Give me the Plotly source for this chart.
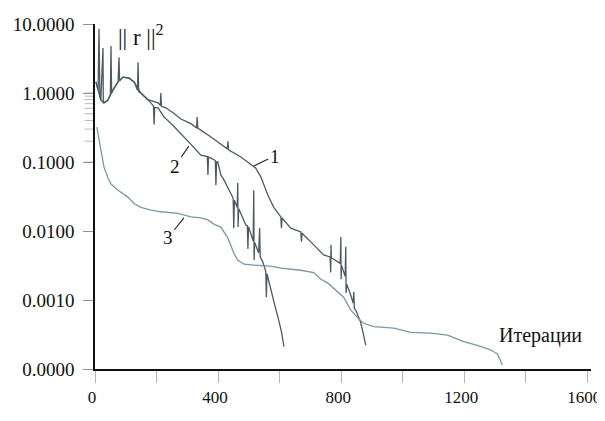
import math
import plotly.graph_objects as go

# ---- data ----
iter1 = [3, 10, 13, 16, 19, 26, 27, 29, 42, 50, 52, 54, 58, 75, 78, 80, 91, 110, 127, 138, 140, 142, 149, 172,
         205, 212, 214, 216, 230, 256, 279, 312, 330, 332, 334, 344, 377, 399, 430, 432, 434, 474, 506, 522, 539,
         562, 581, 604, 606, 608, 636, 669, 671, 673, 711, 743, 764, 766, 767, 768, 776, 797, 799, 800, 801, 813,
         815, 816, 818, 831, 839, 841, 843, 847, 863, 873, 880]
res1 = [1.45, 1.1, 8.5, 0.9, 0.79, 4.5, 0.75, 0.72, 0.79, 0.95, 4.8, 1.0, 1.1, 1.45, 3.3, 1.5, 1.7, 1.65, 1.45, 1.1,
        2.8, 1.05, 1.0, 0.8, 0.72, 0.66, 1.0, 0.64, 0.61, 0.51, 0.42, 0.36, 0.31, 0.45, 0.31, 0.29, 0.23, 0.195,
        0.155, 0.2, 0.15, 0.118, 0.094, 0.082, 0.061, 0.033, 0.022, 0.016, 0.011, 0.0155, 0.011, 0.0097, 0.007,
        0.0093, 0.0063, 0.0045, 0.0042, 0.0025, 0.0063, 0.0041, 0.0039, 0.0034, 0.0082, 0.002, 0.0032, 0.0022,
        0.0059, 0.00126, 0.0017, 0.00118, 0.0009, 0.0013, 0.00075, 0.00072, 0.00048, 0.00031, 0.00022]

iter2 = [3, 10, 16, 19, 29, 42, 58, 75, 91, 110, 127, 149, 172, 190, 192, 194, 205, 224, 253, 279, 312, 344, 365,
         367, 369, 377, 391, 393, 395, 399, 409, 419, 435, 449, 451, 453, 462, 464, 465, 467, 474, 490, 495, 497,
         499, 506, 514, 516, 517, 519, 532, 535, 537, 545, 555, 557, 559, 571, 584, 597, 607, 614]
res2 = [1.45, 1.1, 0.85, 0.79, 0.72, 0.79, 1.1, 1.45, 1.7, 1.65, 1.45, 1.0, 0.8, 0.65, 0.35, 0.62, 0.61, 0.45,
        0.34, 0.26, 0.18, 0.126, 0.12, 0.065, 0.118, 0.114, 0.105, 0.046, 0.1, 0.1, 0.065, 0.055, 0.039, 0.03,
        0.011, 0.028, 0.022, 0.05, 0.0114, 0.021, 0.018, 0.0122, 0.012, 0.0055, 0.0115, 0.0094, 0.0072, 0.039,
        0.0038, 0.0068, 0.0048, 0.011, 0.0042, 0.0036, 0.0026, 0.0011, 0.0024, 0.0014, 0.00085, 0.00051,
        0.00033, 0.00021]

iter3 = [6, 13, 19, 29, 42, 52, 75, 94, 107, 127, 149, 182, 214, 269, 289, 312, 344, 367, 386, 409, 432, 441,
         451, 464, 484, 516, 571, 604, 669, 711, 734, 756, 776, 808, 831, 854, 873, 906, 971, 1026, 1091, 1146,
         1198, 1243, 1285, 1308, 1324]
res3 = [0.32, 0.21, 0.14, 0.085, 0.059, 0.048, 0.039, 0.034, 0.031, 0.025, 0.022, 0.020, 0.019, 0.018, 0.017,
        0.016, 0.0155, 0.0145, 0.0126, 0.0114, 0.0079, 0.0063, 0.0048, 0.0038, 0.0033, 0.0032, 0.0031, 0.0029,
        0.0027, 0.0025, 0.0020, 0.00177, 0.00149, 0.0011, 0.00072, 0.00055, 0.00046, 0.00041, 0.00039, 0.00034,
        0.00033, 0.00031, 0.00025, 0.00022, 0.00019, 0.000165, 0.000114]

x_tickvals = [0, 400, 800, 1200, 1600]
x_ticktext = ["0", "400", "800", "1200", "1600"]
y_tickvals = [10, 1, 0.1, 0.01, 0.001, 0.0001]
y_ticktext = ["10.0000", "1.0000", "0.1000", "0.0100", "0.0010", "0.0000"]

# curve label anchors: (label, iteration, value, dx, dy)
curve_labels = [("1", 516, 0.0875, 21, -10), ("2", 305, 0.17, -14, 20), ("3", 289, 0.0155, -16, 20)]

DARK = "#4b5a63"
LIGHT = "#7a97a6"
SERIF = "Liberation Serif"

fig = go.Figure()
fig.add_trace(go.Scatter(x=iter1, y=res1, mode="lines", line=dict(color=DARK, width=1.3), name="1"))
fig.add_trace(go.Scatter(x=iter2, y=res2, mode="lines", line=dict(color=DARK, width=1.3), name="2"))
fig.add_trace(go.Scatter(x=iter3, y=res3, mode="lines", line=dict(color=LIGHT, width=1.3), name="3"))

annotations = []
for txt, xv, yv, dx, dy in curve_labels:
    annotations.append(dict(x=xv, y=math.log10(yv), xref="x", yref="y", text=txt, showarrow=True,
                            arrowhead=0, arrowwidth=1.1, arrowcolor="#222", ax=dx, ay=dy, standoff=0,
                            font=dict(family=SERIF, size=19, color="#111")))
annotations.append(dict(x=0.042, y=1.015, xref="paper", yref="paper", xanchor="left", yanchor="top",
                        text="|| r ||<sup>2</sup>", showarrow=False,
                        font=dict(family=SERIF, size=23, color="#111")))
annotations.append(dict(x=0.985, y=0.098, xref="paper", yref="paper", xanchor="right", yanchor="middle",
                        text="Итерации", showarrow=False, font=dict(family=SERIF, size=20, color="#111")))

# dense light tick marks along the left of the y axis (every tenth of a decade)
shapes = []
for k in range(0, 51):
    shapes.append(dict(type="line", xref="paper", yref="y", x0=-0.021, x1=0, y0=-4 + k * 0.1, y1=-4 + k * 0.1,
                       line=dict(color="#c2b5ad", width=1), layer="below"))

# the page body adds an 8px margin, so the figure is sized to fit inside the 605x421 window
fig.update_layout(
    width=597, height=413,
    margin=dict(l=87, r=14, t=16, b=52),
    paper_bgcolor="white", plot_bgcolor="white",
    showlegend=False,
    annotations=annotations,
    shapes=shapes,
    font=dict(family=SERIF, size=19, color="#111"),
    xaxis=dict(range=[0, 1612], tickvals=x_tickvals, ticktext=x_ticktext, showgrid=False, zeroline=False,
               automargin=False, showline=True, linecolor="#111", linewidth=1.6, ticks="outside", ticklen=12,
               tickcolor="#a9b8c2", tickwidth=1, ticklabelstandoff=0, ticklabeloverflow="allow",
               ticklabelshift=-3, tickfont=dict(family=SERIF, size=17, color="#111"),
               minor=dict(dtick=200, tick0=0, ticks="outside", ticklen=12, tickcolor="#a9b8c2", tickwidth=1,
                          showgrid=False)),
    yaxis=dict(type="log", range=[-4, 1], tickvals=y_tickvals, ticktext=y_ticktext, showgrid=False,
               automargin=False, zeroline=False, showline=True, linecolor="#111", linewidth=1.6,
               ticks="outside", ticklen=10, tickcolor="#9c9089", tickwidth=1, ticklabelstandoff=5,
               tickfont=dict(family=SERIF, size=19, color="#111")),
)

fig.write_html("out.html")
